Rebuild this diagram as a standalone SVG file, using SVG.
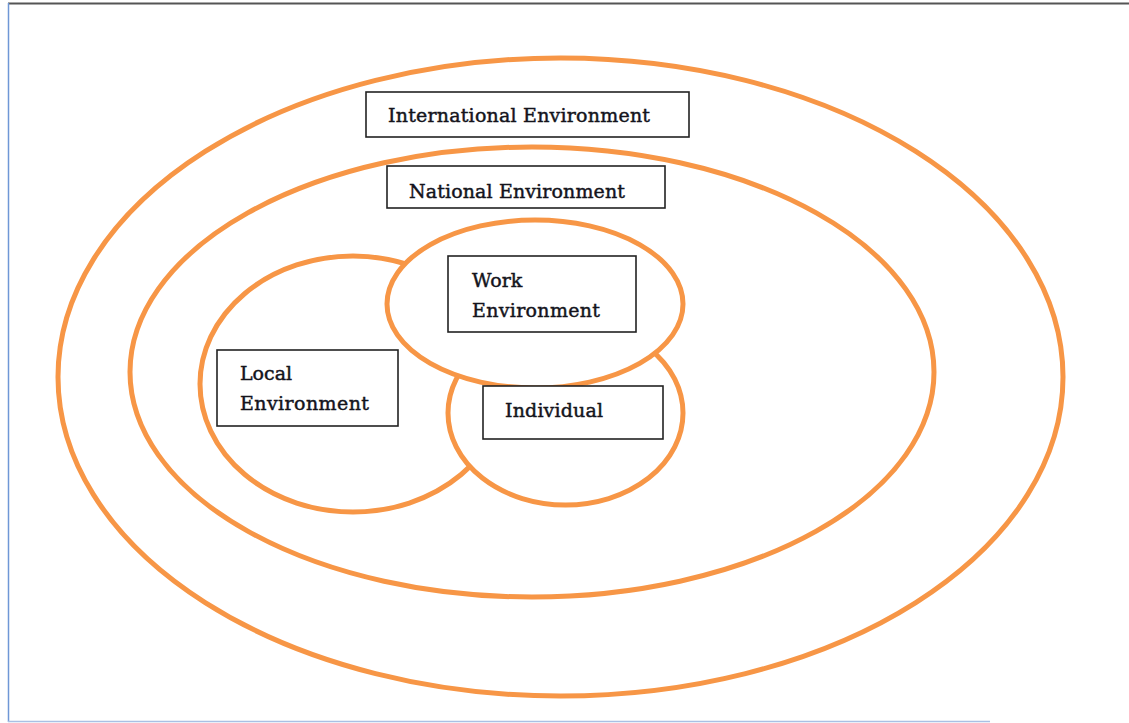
<svg xmlns="http://www.w3.org/2000/svg" width="1129" height="723" viewBox="0 0 1129 723">
  <style>
    .ring { fill: none; stroke: #F79646; stroke-width: 5; }
    .disc { fill: #ffffff; stroke: #F79646; stroke-width: 5; }
    .box { fill: #ffffff; stroke: #222222; stroke-width: 1.6; }
    .label { font-family: "DejaVu Serif", "Liberation Serif", serif; font-size: 19px; fill: #14141c; stroke: #14141c; stroke-width: 0.45; }
  </style>

  <!-- page background and frame -->
  <rect x="0" y="0" width="1129" height="723" fill="#ffffff"/>
  <line x1="8" y1="3.5" x2="1129" y2="3.5" stroke="#555555" stroke-width="2"/>
  <line x1="8.5" y1="3" x2="8.5" y2="722" stroke="#6f97d6" stroke-width="1.5"/>
  <line x1="8" y1="721.5" x2="990" y2="721.5" stroke="#a9c0e4" stroke-width="1.5"/>

  <!-- environment levels, outermost first -->
  <g id="international">
    <ellipse class="ring" cx="560.5" cy="377" rx="502.5" ry="319"/>
    <rect class="box" x="366" y="92" width="323" height="45"/>
    <text class="label" x="388" y="122" textLength="262">International Environment</text>
  </g>

  <g id="national">
    <ellipse class="ring" cx="532" cy="372" rx="402" ry="225"/>
    <rect class="box" x="387" y="166" width="278" height="42"/>
    <text class="label" x="409" y="198" textLength="216">National Environment</text>
  </g>

  <g id="local">
    <ellipse class="disc" cx="353" cy="384" rx="153" ry="128"/>
  </g>

  <g id="individual">
    <ellipse class="disc" cx="565.5" cy="413" rx="117.5" ry="92"/>
  </g>

  <g id="work">
    <ellipse class="disc" cx="535" cy="304" rx="148" ry="84"/>
    <rect class="box" x="448" y="256" width="188" height="76"/>
    <text class="label" x="472" y="287">Work</text>
    <text class="label" x="472" y="317" textLength="128">Environment</text>
  </g>

  <g id="local-label">
    <rect class="box" x="217" y="350" width="181" height="76"/>
    <text class="label" x="240" y="380">Local</text>
    <text class="label" x="240" y="410" textLength="129">Environment</text>
  </g>

  <g id="individual-label">
    <rect class="box" x="483" y="386" width="180" height="53"/>
    <text class="label" x="505" y="417" textLength="98">Individual</text>
  </g>

  <!-- no connectors in this figure -->
  <g id="connectors"/>
</svg>
